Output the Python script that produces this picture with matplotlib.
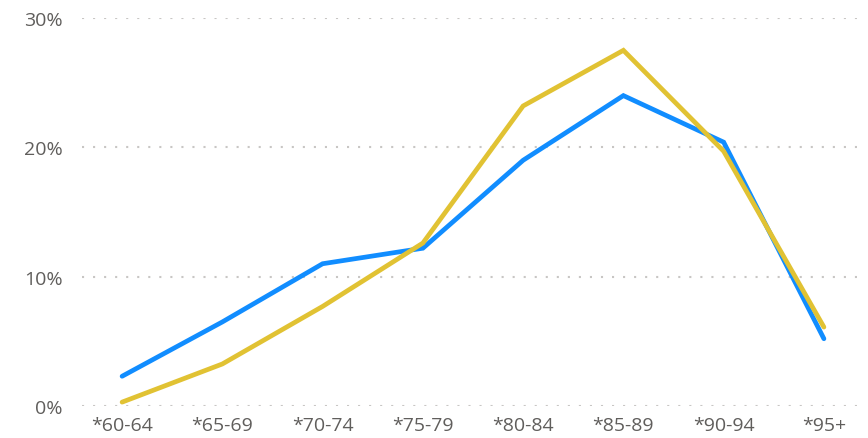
import matplotlib
matplotlib.use('Agg')
import matplotlib.pyplot as plt
from matplotlib.ticker import FuncFormatter

# age bands and share of each series (%)
ages = ['*60-64', '*65-69', '*70-74', '*75-79', '*80-84', '*85-89', '*90-94', '*95+']
blue = [2.3, 6.5, 11.0, 12.2, 19.0, 24.0, 20.4, 5.2]
yellow = [0.3, 3.25, 7.7, 12.6, 23.2, 27.5, 19.7, 6.1]
yticks = [0, 10, 20, 30]

plt.rcParams['font.family'] = ['Open Sans', 'DejaVu Sans']

fig = plt.figure(figsize=(8.68, 4.39), dpi=100)
ax = fig.add_axes([82/868, 32/439, 776/868, 388/439])

x = range(len(ages))
ax.plot(x, blue, color='#118DFF', lw=3.4, solid_capstyle='round',
        solid_joinstyle='miter', clip_on=False, zorder=3)
ax.plot(x, yellow, color='#E1C233', lw=3.4, solid_capstyle='round',
        solid_joinstyle='miter', clip_on=False, zorder=3)

ax.set_xlim(-0.4, 7.34)
ax.set_ylim(0, 30)
ax.set_yticks(yticks)
ax.yaxis.set_major_formatter(FuncFormatter(lambda v, p: f'{v:.0f}%'))
ax.set_xticks(list(x))
ax.set_xticklabels(ages)

ax.grid(axis='y', color='#C8C6C4', linestyle=(0, (1, 4.3)), linewidth=1.5)
ax.set_axisbelow(True)
for s in ax.spines.values():
    s.set_visible(False)
ax.tick_params(length=0, labelsize=14, labelcolor='#605E5C')
ax.tick_params(axis='y', pad=14)
ax.tick_params(axis='x', pad=7)

fig.savefig('out.png', dpi=100)
